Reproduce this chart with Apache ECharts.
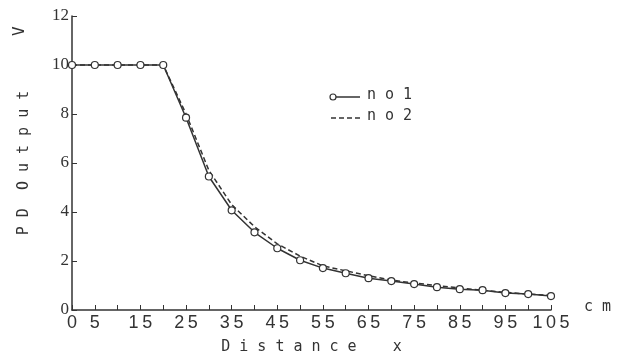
<!DOCTYPE html>
<html>
<head>
<meta charset="utf-8">
<script src="https://cdn.jsdelivr.net/npm/echarts@6/dist/echarts.min.js"></script>
<style>
  html, body { margin: 0; padding: 0; background: #fff; }
  #chart { width: 625px; height: 361px; }
</style>
</head>
<body>
<div id="chart"></div>
<script>
// distance x (cm)
const distance = [0, 5, 10, 15, 20, 25, 30, 35, 40, 45, 50, 55, 60, 65, 70, 75, 80, 85, 90, 95, 100, 105]
// PD output (V)
const no1 = [10, 10, 10, 10, 10, 7.85, 5.45, 4.07, 3.17, 2.52, 2.03, 1.71, 1.5, 1.3, 1.18, 1.06, 0.93, 0.85, 0.81, 0.69, 0.65, 0.57]
const no2 = [10, 10, 10, 10, 10, 8.0, 5.7, 4.3, 3.4, 2.7, 2.2, 1.8, 1.6, 1.4, 1.22, 1.1, 1.0, 0.9, 0.8, 0.72, 0.65, 0.6]

const FONT = 'DejaVu Sans Mono'
const INK = '#333'

const chart = echarts.init(document.getElementById('chart'))

// 手绘图例：no1 左端空心圆 + 实线，no2 虚线
const legendGraphic = [
  { type: 'line', shape: { x1: 336, y1: 97, x2: 360, y2: 97 }, style: { stroke: INK, lineWidth: 1.5 } },
  { type: 'circle', shape: { cx: 333, cy: 97, r: 3 }, style: { fill: '#fff', stroke: INK, lineWidth: 1.2 } },
  { type: 'text', left: 367, top: 88, style: { text: 'n o 1', font: '15px "DejaVu Sans Mono"', fill: INK } },
  { type: 'line', shape: { x1: 331, y1: 118, x2: 360, y2: 118 }, style: { stroke: INK, lineWidth: 1.5, lineDash: [5, 3] } },
  { type: 'text', left: 367, top: 109, style: { text: 'n o 2', font: '15px "DejaVu Sans Mono"', fill: INK } },
]

const option = {
  backgroundColor: '#fff',
  animation: false,
  grid: { left: 72, right: 74, top: 16, bottom: 51 },
  xAxis: {
    type: 'value', min: 0, max: 105, interval: 5,
    name: 'D i s t a n c e    x', nameLocation: 'middle', nameGap: 30,
    nameTextStyle: { fontFamily: FONT, fontSize: 15, color: INK },
    axisLine: { lineStyle: { color: INK, width: 1.5 } },
    axisTick: { inside: true, length: 5, lineStyle: { color: INK } },
    axisLabel: {
      fontFamily: 'Liberation Sans', fontSize: 18, color: INK, margin: 4,
      formatter: v => (v === 0 || v % 10 === 5) ? String(v).split('').join('\u2009') : '',
    },
    splitLine: { show: false },
  },
  yAxis: {
    type: 'value', min: 0, max: 12, interval: 2,
    name: 'P D  O u t p u t', nameLocation: 'middle', nameGap: 40, nameRotate: 90,
    nameTextStyle: { fontFamily: FONT, fontSize: 15, color: INK },
    axisLine: { show: true, lineStyle: { color: INK, width: 1.5 } },
    axisTick: { show: true, inside: true, length: 5, lineStyle: { color: INK } },
    axisLabel: { fontFamily: 'Liberation Sans Narrow', fontSize: 17, color: INK, margin: 3 },
    splitLine: { show: false },
  },
  graphic: [
    { type: 'text', x: 12, y: 36, rotation: Math.PI / 2,
      style: { text: 'V', font: '16px "DejaVu Sans Mono"', fill: INK } },
    { type: 'text', left: 584, top: 300,
      style: { text: 'c m', font: '15px "DejaVu Sans Mono"', fill: INK } },
    ...legendGraphic,
  ],
  series: [
    {
      name: 'no1', type: 'line',
      data: distance.map((d, i) => [d, no1[i]]),
      symbol: 'circle', symbolSize: 7,
      itemStyle: { color: '#fff', borderColor: INK, borderWidth: 1.2 },
      lineStyle: { color: INK, width: 1.5 },
      z: 3,
    },
    {
      name: 'no2', type: 'line',
      data: distance.map((d, i) => [d, no2[i]]),
      symbol: 'none',
      itemStyle: { color: INK },
      lineStyle: { color: INK, width: 1.5, type: [5, 3] },
      z: 2,
    },
  ],
}

chart.setOption(option)
</script>
</body>
</html>
